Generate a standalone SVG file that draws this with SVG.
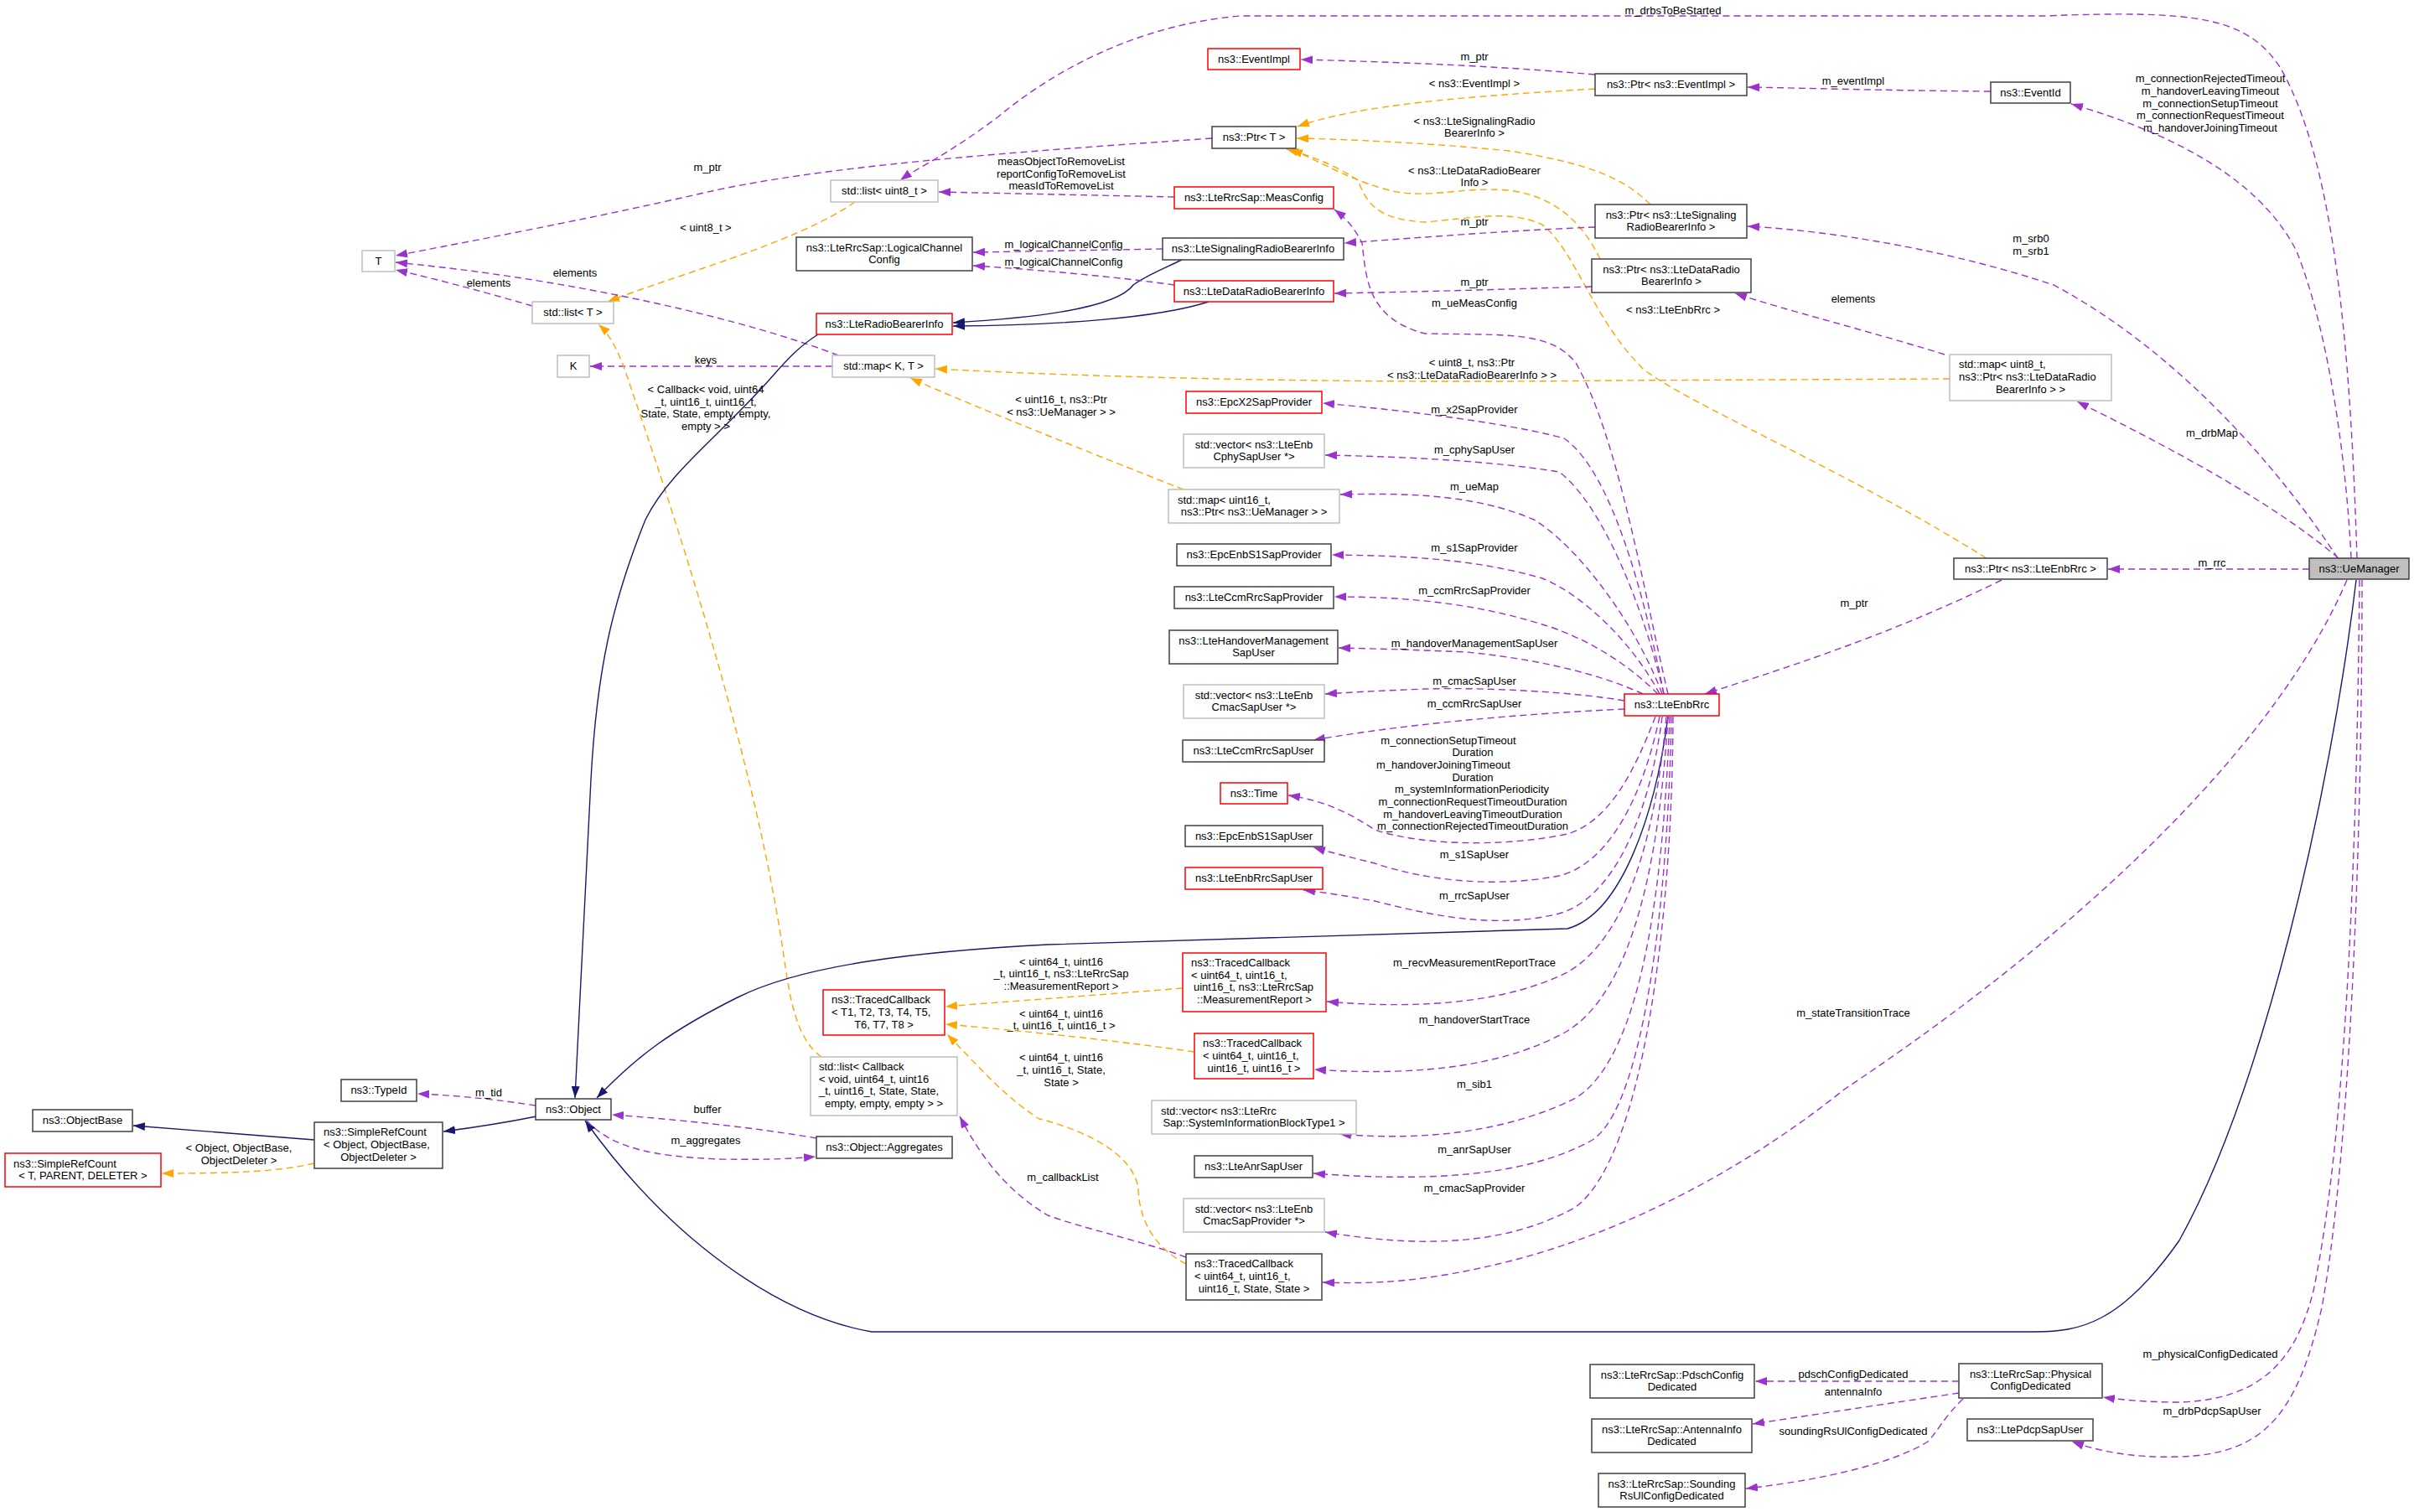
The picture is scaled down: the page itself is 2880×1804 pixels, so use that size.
<svg xmlns="http://www.w3.org/2000/svg" width="2880" height="1804" viewBox="0 0 2880 1804">
<style>
text{font-family:"Liberation Sans",Arial,sans-serif;font-size:13px;fill:#000}
.c{text-anchor:middle}
.nb{fill:#fff;stroke:#404040;stroke-width:1.5}
.ng{fill:#fff;stroke:#bfbfbf;stroke-width:1.5}
.nr{fill:#fff;stroke:#ff0000;stroke-width:1.5}
.nu{fill:#bfbfbf;stroke:#404040;stroke-width:1.5}
.p{fill:none;stroke:#9a32cd;stroke-width:1.4;stroke-dasharray:8,5;marker-end:url(#ap)}
.o{fill:none;stroke:#ffa500;stroke-width:1.4;stroke-dasharray:8,5;marker-end:url(#ao)}
.n{fill:none;stroke:#191970;stroke-width:1.4;marker-end:url(#an)}
</style>
<defs>
<marker id="ap" viewBox="0 0 14 10" refX="14" refY="5" markerWidth="14" markerHeight="10" markerUnits="userSpaceOnUse" orient="auto"><path d="M0,0 L14,5 L0,10 z" fill="#9a32cd"/></marker>
<marker id="ao" viewBox="0 0 14 10" refX="14" refY="5" markerWidth="14" markerHeight="10" markerUnits="userSpaceOnUse" orient="auto"><path d="M0,0 L14,5 L0,10 z" fill="#ffa500"/></marker>
<marker id="an" viewBox="0 0 14 10" refX="14" refY="5" markerWidth="14" markerHeight="10" markerUnits="userSpaceOnUse" orient="auto"><path d="M0,0 L14,5 L0,10 z" fill="#191970"/></marker>
</defs>
<rect width="2880" height="1804" fill="#fff"/>
<g id="connectors">
<path class="p" d="M1446,165 C1200,182 980,198 840,230 C700,262 560,288 472,305"/>
<path class="o" d="M1020,241 C950,290 800,330 725,360"/>
<path class="p" d="M635,365 C590,352 530,335 472,322"/>
<path class="p" d="M1000,424 C900,385 700,335 472,313"/>
<path class="p" d="M993,437 L704,437"/>
<path class="o" d="M980,1261 C950,1240 942,1190 935,1140 C900,900 800,600 745,440 C735,412 724,396 714,387"/>
<path class="n" d="M976,399 C955,412 940,428 925,445 C860,520 800,560 770,620 C730,720 712,800 705,930 L686,1310"/>
<path class="n" d="M1410,310 C1385,322 1365,330 1352,340 C1330,370 1220,380 1137,385"/>
<path class="n" d="M1442,360 C1380,380 1260,388 1137,389"/>
<path class="p" d="M1387,297 L1161,301"/>
<path class="p" d="M1401,340 C1330,330 1240,322 1161,317"/>
<path class="p" d="M1401,235 L1120,229"/>
<path class="p" d="M1903,89 C1800,80 1700,75 1552,71"/>
<path class="o" d="M1903,106 C1750,115 1620,125 1548,151"/>
<path class="o" d="M1969,244 C1940,215 1900,195 1800,180 C1700,170 1600,166 1547,165"/>
<path class="o" d="M1909,309 C1890,270 1860,235 1800,227 C1740,222 1700,240 1650,225 C1600,210 1570,190 1540,178"/>
<path class="o" d="M2370,666 C2200,560 2010,480 1960,440 C1900,380 1880,300 1840,268 C1800,250 1760,260 1700,265 C1640,262 1630,240 1620,215 C1590,195 1560,185 1535,178"/>
<path class="o" d="M2326,452 L1920,454 C1600,458 1300,450 1116,440"/>
<path class="o" d="M1412,584 C1300,540 1150,480 1086,451"/>
<path class="p" d="M2320,423 C2230,395 2130,370 2070,350"/>
<path class="p" d="M1899,342 C1800,345 1700,348 1592,350"/>
<path class="p" d="M1903,271 C1800,275 1700,283 1604,290"/>
<path class="p" d="M2375,109 C2250,108 2150,105 2085,104"/>
<path class="p" d="M2805,666 C2800,560 2780,400 2740,300 C2690,200 2560,150 2471,124"/>
<path class="p" d="M2812,666 C2805,450 2790,200 2720,80 C2680,20 2620,12 2440,19 L1480,19 C1350,30 1250,90 1190,140 C1130,185 1095,200 1074,215"/>
<path class="p" d="M2789,666 C2720,560 2600,420 2450,340 C2300,290 2150,273 2085,270"/>
<path class="p" d="M2790,666 C2700,590 2560,520 2478,479"/>
<path class="p" d="M2755,679 L2515,679"/>
<path class="p" d="M2388,692 C2250,760 2120,800 2034,828"/>
<path class="n" d="M2811,692 C2780,950 2700,1300 2600,1480 C2530,1580 2480,1589 2428,1589 L1040,1589 C930,1570 800,1480 698,1337"/>
<path class="n" d="M1990,855 C1975,970 1935,1090 1870,1108 L1250,1127 C1100,1135 960,1150 880,1190 C800,1230 760,1260 712,1310"/>
<path class="p" d="M639,1319 C600,1313 550,1307 498,1305"/>
<path class="n" d="M640,1332 C600,1340 560,1346 529,1350"/>
<path class="n" d="M375,1360 L159,1343"/>
<path class="o" d="M375,1388 C330,1398 280,1400 193,1400"/>
<path class="p" d="M974,1358 C900,1345 800,1335 730,1330"/>
<path class="p" d="M700,1337 C730,1370 780,1380 860,1383 C920,1384 950,1382 973,1380"/>
<path class="p" d="M1415,1500 C1360,1480 1290,1465 1250,1450 C1200,1420 1170,1380 1145,1332"/>
<path class="o" d="M1415,1508 C1380,1490 1360,1460 1358,1420 C1355,1380 1300,1350 1240,1335 C1200,1310 1165,1270 1130,1234"/>
<path class="o" d="M1411,1179 C1300,1188 1200,1195 1128,1201"/>
<path class="o" d="M1425,1255 C1320,1240 1220,1230 1128,1222"/>
<path class="p" d="M1990,828 C1960,700 1930,520 1880,433 C1850,395 1800,400 1700,398 C1630,380 1630,330 1625,290 C1615,270 1605,260 1592,250"/>
<path class="p" d="M1985,828 C1960,700 1920,560 1866,523 C1800,505 1680,490 1578,481"/>
<path class="p" d="M1985,828 C1960,720 1910,600 1860,563 C1780,550 1680,545 1581,543"/>
<path class="p" d="M1983,828 C1950,740 1880,650 1830,620 C1760,590 1680,588 1599,590"/>
<path class="p" d="M1980,828 C1950,770 1890,710 1840,690 C1760,667 1680,663 1589,662"/>
<path class="p" d="M1978,828 C1940,790 1890,760 1840,745 C1760,720 1680,712 1592,712"/>
<path class="p" d="M1960,828 C1900,800 1820,785 1750,778 C1680,775 1640,774 1597,773"/>
<path class="p" d="M1938,836 C1880,826 1780,820 1700,822 C1650,824 1610,826 1581,828"/>
<path class="p" d="M1938,846 C1850,850 1700,860 1567,883"/>
<path class="p" d="M1975,855 C1950,920 1920,980 1870,995 C1800,1010 1700,1010 1640,990 C1610,970 1580,955 1537,949"/>
<path class="p" d="M1980,855 C1960,950 1920,1030 1860,1045 C1780,1060 1700,1050 1640,1030 C1600,1020 1580,1015 1567,1011"/>
<path class="p" d="M1983,855 C1970,960 1930,1070 1860,1090 C1780,1110 1700,1090 1640,1075 C1600,1068 1575,1064 1555,1062"/>
<path class="p" d="M1988,855 C1975,1000 1940,1120 1870,1160 C1800,1195 1700,1205 1583,1195"/>
<path class="p" d="M1990,855 C1980,1020 1950,1180 1870,1230 C1800,1270 1700,1285 1568,1276"/>
<path class="p" d="M1992,855 C1985,1050 1960,1260 1880,1310 C1800,1350 1700,1362 1598,1353"/>
<path class="p" d="M1994,855 C1990,1080 1960,1320 1900,1360 C1820,1405 1700,1410 1567,1400"/>
<path class="p" d="M1996,855 C1995,1100 1960,1380 1880,1440 C1800,1485 1700,1490 1581,1470"/>
<path class="p" d="M2800,692 C2720,880 2500,1100 2200,1300 C2050,1420 1900,1480 1800,1505 C1700,1530 1640,1532 1578,1530"/>
<path class="p" d="M2815,692 C2812,1000 2800,1350 2760,1540 C2740,1620 2700,1670 2600,1673 C2560,1673 2530,1670 2509,1667"/>
<path class="p" d="M2818,692 C2818,1050 2800,1400 2770,1560 C2740,1690 2700,1735 2600,1738 C2540,1740 2500,1730 2472,1720"/>
<path class="p" d="M2337,1648 L2094,1648"/>
<path class="p" d="M2337,1662 C2250,1675 2150,1690 2091,1699"/>
<path class="p" d="M2342,1669 C2320,1690 2310,1710 2300,1720 C2260,1745 2180,1765 2083,1776"/>
</g>
<g id="labels" class="c">
<text x="844" y="204">m_ptr</text>
<text x="842" y="276">&lt; uint8_t &gt;</text>
<text x="686" y="330">elements</text>
<text x="583" y="342">elements</text>
<text x="842" y="434">keys</text>
<text x="842" y="469">&lt; Callback&lt; void, uint64</text>
<text x="842" y="484">_t, uint16_t, uint16_t,</text>
<text x="842" y="498">State, State, empty, empty,</text>
<text x="842" y="513">empty &gt; &gt;</text>
<text x="1759" y="72">m_ptr</text>
<text x="1759" y="104">&lt; ns3::EventImpl &gt;</text>
<text x="1759" y="149">&lt; ns3::LteSignalingRadio</text>
<text x="1759" y="163">BearerInfo &gt;</text>
<text x="1266" y="197">measObjectToRemoveList</text>
<text x="1266" y="212">reportConfigToRemoveList</text>
<text x="1266" y="226">measIdToRemoveList</text>
<text x="1759" y="208">&lt; ns3::LteDataRadioBearer</text>
<text x="1759" y="222">Info &gt;</text>
<text x="1759" y="269">m_ptr</text>
<text x="1269" y="296">m_logicalChannelConfig</text>
<text x="1269" y="317">m_logicalChannelConfig</text>
<text x="1759" y="341">m_ptr</text>
<text x="1759" y="366">m_ueMeasConfig</text>
<text x="1756" y="437">&lt; uint8_t, ns3::Ptr</text>
<text x="1756" y="452">&lt; ns3::LteDataRadioBearerInfo &gt; &gt;</text>
<text x="1996" y="17">m_drbsToBeStarted</text>
<text x="2211" y="101">m_eventImpl</text>
<text x="2637" y="98">m_connectionRejectedTimeout</text>
<text x="2637" y="113">m_handoverLeavingTimeout</text>
<text x="2637" y="128">m_connectionSetupTimeout</text>
<text x="2637" y="142">m_connectionRequestTimeout</text>
<text x="2637" y="157">m_handoverJoiningTimeout</text>
<text x="2423" y="289">m_srb0</text>
<text x="2423" y="304">m_srb1</text>
<text x="2211" y="361">elements</text>
<text x="1996" y="374">&lt; ns3::LteEnbRrc &gt;</text>
<text x="1266" y="481">&lt; uint16_t, ns3::Ptr</text>
<text x="1266" y="496">&lt; ns3::UeManager &gt; &gt;</text>
<text x="1759" y="493">m_x2SapProvider</text>
<text x="1759" y="541">m_cphySapUser</text>
<text x="1759" y="585">m_ueMap</text>
<text x="1759" y="658">m_s1SapProvider</text>
<text x="1759" y="709">m_ccmRrcSapProvider</text>
<text x="1759" y="772">m_handoverManagementSapUser</text>
<text x="1759" y="817">m_cmacSapUser</text>
<text x="1759" y="844">m_ccmRrcSapUser</text>
<text x="1728" y="888">m_connectionSetupTimeout</text>
<text x="1757" y="902">Duration</text>
<text x="1722" y="917">m_handoverJoiningTimeout</text>
<text x="1757" y="932">Duration</text>
<text x="1756" y="946">m_systemInformationPeriodicity</text>
<text x="1757" y="961">m_connectionRequestTimeoutDuration</text>
<text x="1757" y="976">m_handoverLeavingTimeoutDuration</text>
<text x="1757" y="990">m_connectionRejectedTimeoutDuration</text>
<text x="1759" y="1024">m_s1SapUser</text>
<text x="1759" y="1073">m_rrcSapUser</text>
<text x="1759" y="1153">m_recvMeasurementReportTrace</text>
<text x="1266" y="1152">&lt; uint64_t, uint16</text>
<text x="1266" y="1166">_t, uint16_t, ns3::LteRrcSap</text>
<text x="1266" y="1181">::MeasurementReport &gt;</text>
<text x="1266" y="1214">&lt; uint64_t, uint16</text>
<text x="1266" y="1228">_t, uint16_t, uint16_t &gt;</text>
<text x="1759" y="1221">m_handoverStartTrace</text>
<text x="1266" y="1266">&lt; uint64_t, uint16</text>
<text x="1266" y="1281">_t, uint16_t, State,</text>
<text x="1266" y="1296">State &gt;</text>
<text x="1759" y="1298">m_sib1</text>
<text x="583" y="1308">m_tid</text>
<text x="844" y="1328">buffer</text>
<text x="285" y="1374">&lt; Object, ObjectBase,</text>
<text x="285" y="1389">ObjectDeleter &gt;</text>
<text x="842" y="1365">m_aggregates</text>
<text x="1759" y="1376">m_anrSapUser</text>
<text x="1268" y="1409">m_callbackList</text>
<text x="1759" y="1422">m_cmacSapProvider</text>
<text x="2211" y="1213">m_stateTransitionTrace</text>
<text x="2639" y="521">m_drbMap</text>
<text x="2639" y="676">m_rrc</text>
<text x="2212" y="724">m_ptr</text>
<text x="2211" y="1644">pdschConfigDedicated</text>
<text x="2211" y="1665">antennaInfo</text>
<text x="2211" y="1712">soundingRsUlConfigDedicated</text>
<text x="2637" y="1620">m_physicalConfigDedicated</text>
<text x="2639" y="1688">m_drbPdcpSapUser</text>
</g>
<g id="n_uemanager"><rect class="nu" x="2755" y="666" width="119" height="25"/><text class="c" x="2814.5" y="683">ns3::UeManager</text></g>
<g id="n_ptr_enbrrc"><rect class="nb" x="2331" y="666" width="183" height="25"/><text class="c" x="2422.5" y="683">ns3::Ptr&lt; ns3::LteEnbRrc &gt;</text></g>
<g id="n_enbrrc"><rect class="nr" x="1938" y="828" width="113" height="26"/><text class="c" x="1994.5" y="845">ns3::LteEnbRrc</text></g>
<g id="n_eventid"><rect class="nb" x="2375" y="98" width="95" height="25"/><text class="c" x="2422.5" y="115">ns3::EventId</text></g>
<g id="n_ptr_eventimpl"><rect class="nb" x="1903" y="88" width="181" height="26"/><text class="c" x="1993.5" y="105">ns3::Ptr&lt; ns3::EventImpl &gt;</text></g>
<g id="n_eventimpl"><rect class="nr" x="1441" y="58" width="110" height="25"/><text class="c" x="1496" y="75">ns3::EventImpl</text></g>
<g id="n_ptr_t"><rect class="nb" x="1446" y="151" width="100" height="26"/><text class="c" x="1496" y="168">ns3::Ptr&lt; T &gt;</text></g>
<g id="n_ptr_srb"><rect class="nb" x="1903" y="244" width="181" height="40"/><text class="c" x="1993.5" y="260.5">ns3::Ptr&lt; ns3::LteSignaling</text><text class="c" x="1993.5" y="275">RadioBearerInfo &gt;</text></g>
<g id="n_ptr_drb"><rect class="nb" x="1899" y="309" width="190" height="40"/><text class="c" x="1994" y="325.5">ns3::Ptr&lt; ns3::LteDataRadio</text><text class="c" x="1994" y="340">BearerInfo &gt;</text></g>
<g id="n_map_drb"><rect class="ng" x="2326" y="423" width="193" height="55"/><text x="2337" y="439">std::map&lt; uint8_t,</text><text x="2337" y="454">ns3::Ptr&lt; ns3::LteDataRadio</text><text class="c" x="2422.5" y="469">BearerInfo &gt; &gt;</text></g>
<g id="n_list_uint8"><rect class="ng" x="991" y="215" width="128" height="26"/><text class="c" x="1055" y="232">std::list&lt; uint8_t &gt;</text></g>
<g id="n_measconfig"><rect class="nr" x="1401" y="223" width="190" height="26"/><text class="c" x="1496" y="240">ns3::LteRrcSap::MeasConfig</text></g>
<g id="n_lcc"><rect class="nb" x="950" y="283" width="210" height="40"/><text class="c" x="1055" y="299.5">ns3::LteRrcSap::LogicalChannel</text><text class="c" x="1055" y="314">Config</text></g>
<g id="n_srbinfo"><rect class="nb" x="1387" y="284" width="216" height="26"/><text class="c" x="1495" y="301">ns3::LteSignalingRadioBearerInfo</text></g>
<g id="n_drbinfo"><rect class="nr" x="1401" y="335" width="190" height="25"/><text class="c" x="1496" y="352">ns3::LteDataRadioBearerInfo</text></g>
<g id="n_rbinfo"><rect class="nr" x="974" y="374" width="162" height="25"/><text class="c" x="1055" y="391">ns3::LteRadioBearerInfo</text></g>
<g id="n_map_kt"><rect class="ng" x="993" y="424" width="122" height="26"/><text class="c" x="1054" y="441">std::map&lt; K, T &gt;</text></g>
<g id="n_t"><rect class="ng" x="432" y="299" width="39" height="25"/><text class="c" x="451.5" y="316">T</text></g>
<g id="n_list_t"><rect class="ng" x="635" y="360" width="97" height="26"/><text class="c" x="683.5" y="377">std::list&lt; T &gt;</text></g>
<g id="n_k"><rect class="ng" x="665" y="424" width="38" height="26"/><text class="c" x="684" y="441">K</text></g>
<g id="n_x2"><rect class="nr" x="1415" y="467" width="162" height="26"/><text class="c" x="1496" y="484">ns3::EpcX2SapProvider</text></g>
<g id="n_cphy"><rect class="ng" x="1412" y="518" width="168" height="40"/><text class="c" x="1496" y="534.5">std::vector&lt; ns3::LteEnb</text><text class="c" x="1496" y="549">CphySapUser *&gt;</text></g>
<g id="n_uemap"><rect class="ng" x="1394" y="584" width="204" height="40"/><text x="1405" y="600.5">std::map&lt; uint16_t,</text><text class="c" x="1496" y="615">ns3::Ptr&lt; ns3::UeManager &gt; &gt;</text></g>
<g id="n_s1prov"><rect class="nb" x="1404" y="649" width="184" height="26"/><text class="c" x="1496" y="666">ns3::EpcEnbS1SapProvider</text></g>
<g id="n_ccmprov"><rect class="nb" x="1401" y="700" width="190" height="26"/><text class="c" x="1496" y="717">ns3::LteCcmRrcSapProvider</text></g>
<g id="n_homgmt"><rect class="nb" x="1395" y="752" width="201" height="40"/><text class="c" x="1495.5" y="768.5">ns3::LteHandoverManagement</text><text class="c" x="1495.5" y="783">SapUser</text></g>
<g id="n_cmacuser"><rect class="ng" x="1412" y="817" width="168" height="40"/><text class="c" x="1496" y="833.5">std::vector&lt; ns3::LteEnb</text><text class="c" x="1496" y="848">CmacSapUser *&gt;</text></g>
<g id="n_ccmuser"><rect class="nb" x="1411" y="883" width="169" height="26"/><text class="c" x="1495.5" y="900">ns3::LteCcmRrcSapUser</text></g>
<g id="n_time"><rect class="nr" x="1456" y="934" width="80" height="25"/><text class="c" x="1496" y="951">ns3::Time</text></g>
<g id="n_s1user"><rect class="nb" x="1414" y="985" width="164" height="25"/><text class="c" x="1496" y="1002">ns3::EpcEnbS1SapUser</text></g>
<g id="n_rrcsapuser"><rect class="nr" x="1414" y="1035" width="164" height="26"/><text class="c" x="1496" y="1052">ns3::LteEnbRrcSapUser</text></g>
<g id="n_tc_mr"><rect class="nr" x="1411" y="1137" width="171" height="70"/><text x="1421" y="1153">ns3::TracedCallback</text><text x="1421" y="1167.5">&lt; uint64_t, uint16_t,</text><text x="1424" y="1182">uint16_t, ns3::LteRrcSap</text><text class="c" x="1496.5" y="1197">::MeasurementReport &gt;</text></g>
<g id="n_tc_t"><rect class="nr" x="982" y="1181" width="145" height="54"/><text x="992" y="1197">ns3::TracedCallback</text><text x="992" y="1212">&lt; T1, T2, T3, T4, T5,</text><text class="c" x="1054.5" y="1227">T6, T7, T8 &gt;</text></g>
<g id="n_tc_ho"><rect class="nr" x="1425" y="1233" width="142" height="54"/><text x="1435" y="1249">ns3::TracedCallback</text><text x="1435" y="1264">&lt; uint64_t, uint16_t,</text><text class="c" x="1496" y="1279">uint16_t, uint16_t &gt;</text></g>
<g id="n_list_cb"><rect class="ng" x="967" y="1261" width="175" height="70"/><text x="977" y="1277">std::list&lt; Callback</text><text x="977" y="1291.5">&lt; void, uint64_t, uint16</text><text x="977" y="1306">_t, uint16_t, State, State,</text><text class="c" x="1054.5" y="1321">empty, empty, empty &gt; &gt;</text></g>
<g id="n_sib1"><rect class="ng" x="1374" y="1313" width="244" height="40"/><text x="1385" y="1329.5">std::vector&lt; ns3::LteRrc</text><text class="c" x="1496" y="1344">Sap::SystemInformationBlockType1 &gt;</text></g>
<g id="n_anr"><rect class="nb" x="1425" y="1379" width="141" height="26"/><text class="c" x="1495.5" y="1396">ns3::LteAnrSapUser</text></g>
<g id="n_cmacprov"><rect class="ng" x="1412" y="1430" width="168" height="40"/><text class="c" x="1496" y="1446.5">std::vector&lt; ns3::LteEnb</text><text class="c" x="1496" y="1461">CmacSapProvider *&gt;</text></g>
<g id="n_tc_state"><rect class="nb" x="1415" y="1496" width="162" height="55"/><text x="1425" y="1512">ns3::TracedCallback</text><text x="1425" y="1527">&lt; uint64_t, uint16_t,</text><text class="c" x="1496" y="1542">uint16_t, State, State &gt;</text></g>
<g id="n_aggregates"><rect class="nb" x="974" y="1356" width="162" height="26"/><text class="c" x="1055" y="1373">ns3::Object::Aggregates</text></g>
<g id="n_object"><rect class="nb" x="639" y="1311" width="90" height="25"/><text class="c" x="684" y="1328">ns3::Object</text></g>
<g id="n_typeid"><rect class="nb" x="407" y="1288" width="90" height="26"/><text class="c" x="452" y="1305">ns3::TypeId</text></g>
<g id="n_objectbase"><rect class="nb" x="39" y="1324" width="119" height="26"/><text class="c" x="98.5" y="1341">ns3::ObjectBase</text></g>
<g id="n_src_obj"><rect class="nb" x="375" y="1339" width="153" height="55"/><text x="386" y="1355">ns3::SimpleRefCount</text><text x="386" y="1370">&lt; Object, ObjectBase,</text><text class="c" x="451.5" y="1385">ObjectDeleter &gt;</text></g>
<g id="n_src_t"><rect class="nr" x="6" y="1376" width="186" height="40"/><text x="16" y="1392.5">ns3::SimpleRefCount</text><text class="c" x="99" y="1407">&lt; T, PARENT, DELETER &gt;</text></g>
<g id="n_physcfg"><rect class="nb" x="2337" y="1627" width="171" height="41"/><text class="c" x="2422.5" y="1643.5">ns3::LteRrcSap::Physical</text><text class="c" x="2422.5" y="1658">ConfigDedicated</text></g>
<g id="n_pdsch"><rect class="nb" x="1897" y="1628" width="196" height="40"/><text class="c" x="1995" y="1644.5">ns3::LteRrcSap::PdschConfig</text><text class="c" x="1995" y="1659">Dedicated</text></g>
<g id="n_antenna"><rect class="nb" x="1899" y="1693" width="191" height="40"/><text class="c" x="1994.5" y="1709.5">ns3::LteRrcSap::AntennaInfo</text><text class="c" x="1994.5" y="1724">Dedicated</text></g>
<g id="n_sounding"><rect class="nb" x="1907" y="1758" width="175" height="40"/><text class="c" x="1994.5" y="1774.5">ns3::LteRrcSap::Sounding</text><text class="c" x="1994.5" y="1789">RsUlConfigDedicated</text></g>
<g id="n_pdcp"><rect class="nb" x="2347" y="1693" width="150" height="26"/><text class="c" x="2422" y="1710">ns3::LtePdcpSapUser</text></g>
</svg>
